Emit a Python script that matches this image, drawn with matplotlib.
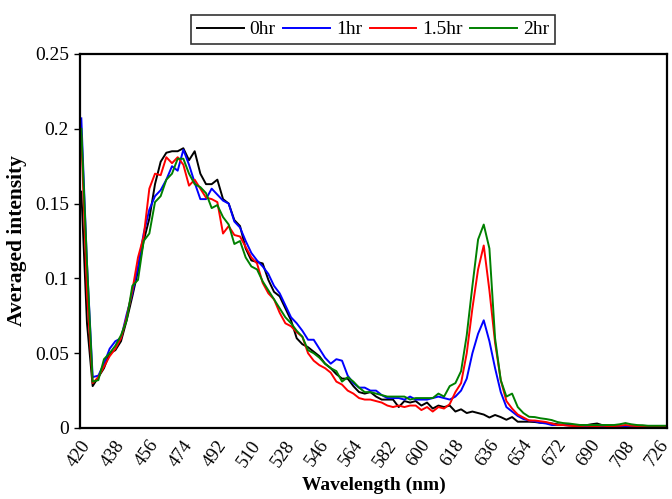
import matplotlib
matplotlib.use("Agg")
import matplotlib.pyplot as plt
import numpy as np

plt.rcParams['font.family'] = ['Liberation Serif', 'DejaVu Serif']

wavelength = list(range(417, 727, 3))

series_labels = ["0hr", "1hr", "1.5hr", "2hr"]
series_colors = ["#000000", "#0000FF", "#FF0000", "#008000"]

hr0 = [0.158, 0.070, 0.028, 0.034, 0.040, 0.050, 0.052, 0.058, 0.072, 0.088,
       0.105, 0.125, 0.140, 0.163, 0.178, 0.184, 0.185, 0.185, 0.187, 0.179,
       0.185, 0.170, 0.163, 0.163, 0.166, 0.153, 0.150, 0.139, 0.135, 0.120,
       0.112, 0.111, 0.110, 0.099, 0.091, 0.088, 0.080, 0.072, 0.060, 0.056,
       0.054, 0.051, 0.048, 0.043, 0.040, 0.036, 0.033, 0.033, 0.028, 0.024,
       0.023, 0.024, 0.021, 0.019, 0.019, 0.019, 0.014, 0.018, 0.017, 0.018,
       0.015, 0.017, 0.013, 0.015, 0.014, 0.015, 0.011, 0.0125, 0.010, 0.011,
       0.010, 0.009, 0.007, 0.0087, 0.0073, 0.0055, 0.0073, 0.0042, 0.0042, 0.0042,
       0.0040, 0.0035, 0.0033, 0.0030, 0.0025, 0.0022, 0.0020, 0.0018, 0.0020, 0.0018,
       0.0025, 0.0030, 0.0018, 0.0015, 0.0015, 0.0013, 0.0015, 0.0013, 0.0013, 0.0015,
       0.0013, 0.0012, 0.0013, 0.0013]

hr1 = [0.207, 0.110, 0.034, 0.035, 0.043, 0.053, 0.058, 0.060, 0.076, 0.090,
       0.108, 0.130, 0.146, 0.155, 0.159, 0.166, 0.175, 0.172, 0.186, 0.176,
       0.164, 0.153, 0.153, 0.160, 0.156, 0.152, 0.150, 0.138, 0.134, 0.125,
       0.117, 0.112, 0.108, 0.103, 0.095, 0.090, 0.082, 0.074, 0.070, 0.065,
       0.059, 0.059, 0.053, 0.047, 0.043, 0.046, 0.045, 0.035, 0.030, 0.027,
       0.027, 0.025, 0.025, 0.022, 0.020, 0.020, 0.020, 0.019, 0.021, 0.019,
       0.019, 0.019, 0.020, 0.021, 0.020, 0.019, 0.021, 0.025, 0.033, 0.050,
       0.063, 0.072, 0.058, 0.040, 0.024, 0.014, 0.011, 0.008, 0.006, 0.005,
       0.0045, 0.0035, 0.003, 0.002, 0.002, 0.002, 0.0018, 0.0015, 0.0015, 0.0015,
       0.0013, 0.0015, 0.0013, 0.0013, 0.0013, 0.0013, 0.0013, 0.0013, 0.0013, 0.0013,
       0.0013, 0.0013, 0.0013, 0.0013]

hr15 = [0.195, 0.090, 0.030, 0.034, 0.041, 0.048, 0.053, 0.060, 0.074, 0.092,
        0.114, 0.128, 0.160, 0.170, 0.169, 0.181, 0.177, 0.181, 0.176, 0.162,
        0.166, 0.160, 0.154, 0.153, 0.151, 0.130, 0.135, 0.129, 0.128, 0.121,
        0.114, 0.110, 0.097, 0.090, 0.086, 0.077, 0.070, 0.068, 0.064, 0.061,
        0.050, 0.045, 0.042, 0.040, 0.037, 0.031, 0.029, 0.025, 0.023, 0.020,
        0.019, 0.019, 0.018, 0.017, 0.015, 0.014, 0.015, 0.014, 0.015, 0.015,
        0.012, 0.014, 0.011, 0.014, 0.013, 0.016, 0.024, 0.030, 0.050, 0.080,
        0.106, 0.122, 0.092, 0.057, 0.032, 0.018, 0.013, 0.009, 0.007, 0.005,
        0.005, 0.0045, 0.004, 0.003, 0.002, 0.002, 0.0015, 0.0013, 0.0013, 0.0015,
        0.0013, 0.0013, 0.0015, 0.0012, 0.0013, 0.0015, 0.002, 0.0015, 0.0013, 0.0013,
        0.0013, 0.0013, 0.0013, 0.0013]

hr2 = [0.200, 0.110, 0.031, 0.032, 0.046, 0.050, 0.055, 0.062, 0.072, 0.095,
       0.099, 0.125, 0.130, 0.151, 0.155, 0.166, 0.170, 0.180, 0.180, 0.170,
       0.163, 0.161, 0.157, 0.147, 0.149, 0.141, 0.136, 0.123, 0.125, 0.114,
       0.108, 0.106, 0.098, 0.092, 0.086, 0.080, 0.074, 0.070, 0.065, 0.061,
       0.052, 0.050, 0.047, 0.043, 0.040, 0.038, 0.031, 0.034, 0.031, 0.027,
       0.024, 0.024, 0.023, 0.022, 0.021, 0.021, 0.021, 0.021, 0.019, 0.020,
       0.020, 0.020, 0.020, 0.023, 0.021, 0.028, 0.030, 0.038, 0.062, 0.095,
       0.126, 0.136, 0.120, 0.060, 0.032, 0.021, 0.023, 0.014, 0.010, 0.0075,
       0.0073, 0.0065, 0.006, 0.0053, 0.004, 0.0033, 0.003, 0.0025, 0.002, 0.002,
       0.002, 0.002, 0.002, 0.002, 0.002, 0.0025, 0.0033, 0.0025, 0.002, 0.0018,
       0.0015, 0.0015, 0.0015, 0.0015]

x_ticks = list(range(420, 727, 18))
y_ticks = [0, 0.05, 0.1, 0.15, 0.2, 0.25]
y_tick_labels = ["0", "0.05", "0.1", "0.15", "0.2", "0.25"]

fig = plt.figure(figsize=(6.72, 4.99), dpi=100)
ax = fig.add_axes([80 / 672, 1 - 428 / 499, (667 - 80) / 672, (428 - 54) / 499])

for data, lab, col in zip([hr0, hr1, hr15, hr2], series_labels, series_colors):
    ax.plot(wavelength, data, color=col, lw=1.4, label=lab)

ax.set_xlim(416.3, 727)
ax.set_ylim(0, 0.25)
ax.set_xticks(x_ticks)
ax.set_xticklabels([str(t) for t in x_ticks], rotation=55, ha='right',
                   va='center', rotation_mode='anchor', fontsize=13.5)
ax.set_yticks(y_ticks)
ax.set_yticklabels(y_tick_labels, fontsize=14)
ax.tick_params(axis='x', length=0, pad=10)
ax.tick_params(axis='y', length=4, width=1, direction='out', pad=4)
for sp in ax.spines.values():
    sp.set_linewidth(1.6)
    sp.set_color('black')

ax.set_xlabel("Wavelength (nm)", fontsize=14, fontweight='bold', labelpad=5)
ax.set_ylabel("Averaged intensity", fontsize=15.5, fontweight='bold', labelpad=6)

leg = fig.legend(loc='center', bbox_to_anchor=(373 / 672, 1 - 29.5 / 499), ncol=4,
                 fontsize=14, frameon=True, fancybox=False, edgecolor='black',
                 handlelength=2.4, handletextpad=0.3, columnspacing=0.4,
                 borderpad=0.3, borderaxespad=0)
leg.get_frame().set_linewidth(1.2)

fig.savefig("out.png", dpi=100)
